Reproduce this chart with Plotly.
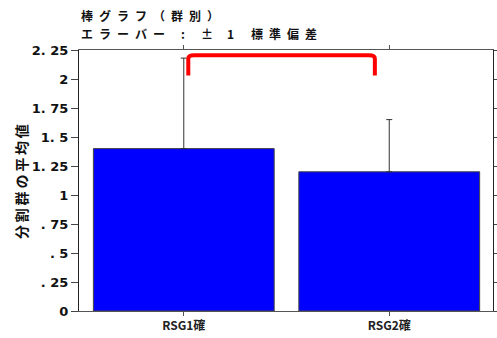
import plotly.graph_objects as go

categories = ["RSG1確", "RSG2確"]
means = [1.40, 1.20]
sds = [0.78, 0.45]
ytick_vals = [0, 0.25, 0.5, 0.75, 1, 1.25, 1.5, 1.75, 2, 2.25]
ytick_text = ["0", ". 25", ". 5", ". 75", "1", "1. 25", "1. 5", "1. 75", "2", "2. 25"]
bracket_x = [0.022, 0.93]
bracket_y = [2.03, 2.205]
title_line1 = "棒グラフ（群別）"
title_line2 = ["エラーバー", ":", "±", "1", "標準偏差"]
y_title = "分割群の平均値"

FONT = "Noto Sans CJK JP"
W, H = 497, 338
ML, MR, MT, MB = 79, 4, 50, 27
PW = W - ML - MR
PH = H - MT - MB
TS = "\u2009"
ES = "\u2002"


def px_x(px):
    return (px - ML) / PW


def px_y(py):
    return (H - MB - py) / PH


fig = go.Figure()
fig.add_trace(go.Bar(
    x=[0, 1], y=means, width=0.88,
    marker=dict(color="#0000FF", line=dict(color="#444444", width=1)),
    error_y=dict(type="data", symmetric=False, array=sds, arrayminus=[0, 0],
                 color="#333333", thickness=1, width=3),
))

x0, x1 = bracket_x
yb, yt = bracket_y
r = 0.03
ry = 0.03
path = (f"M {x0},{yb} L {x0},{yt-ry} Q {x0},{yt} {x0+r},{yt} "
        f"L {x1-r},{yt} Q {x1},{yt} {x1},{yt-ry} L {x1},{yb}")
fig.add_shape(type="path", path=path, xref="x", yref="y",
              line=dict(color="#FF0000", width=4))

annotations = [
    dict(text="<b>" + ES.join(title_line1) + "</b>", xref="paper", yref="paper",
         x=px_x(80), y=px_y(15.5), xanchor="left", yanchor="middle", borderpad=0,
         showarrow=False, font=dict(family=FONT, size=12, color="#111111")),
]
seg_px = [(80, "left"), (183, "center"), (207, "center"), (230, "center"), (250, "left")]
for seg, (sx, anc) in zip(title_line2, seg_px):
    annotations.append(dict(
        text="<b>" + ES.join(seg) + "</b>", xref="paper", yref="paper",
        x=px_x(sx), y=px_y(34), xanchor=anc, yanchor="middle", borderpad=0,
        showarrow=False, font=dict(family=FONT, size=12, color="#111111")))
annotations.append(dict(
    text="<b>" + TS.join(y_title) + "</b>", xref="paper", yref="paper",
    x=px_x(21), y=px_y(181), xanchor="center", yanchor="middle", textangle=-90,
    showarrow=False, font=dict(family=FONT, size=14, color="#111111")))

fig.update_layout(
    width=W, height=H,
    margin=dict(l=ML, r=MR, t=MT, b=MB, autoexpand=False),
    plot_bgcolor="white", paper_bgcolor="white",
    showlegend=False,
    font=dict(family=FONT, color="black"),
    xaxis=dict(range=[-0.51, 1.505], tickvals=[0, 1],
               ticktext=["<b>" + c + "</b>" for c in categories],
               showline=True, linecolor="#555555", linewidth=1, mirror="ticks",
               ticks="outside", ticklen=4, tickcolor="#555555",
               showgrid=False, zeroline=False, automargin=False,
               tickfont=dict(family=FONT, size=12, color="#222222")),
    yaxis=dict(range=[0, 2.25], tickvals=ytick_vals,
               ticktext=["<b>" + t + "</b>" for t in ytick_text],
               showline=True, linecolor="#222222", linewidth=1, mirror="ticks",
               ticks="outside", ticklen=7, tickcolor="#444444",
               showgrid=False, zeroline=False, automargin=False,
               tickfont=dict(family="DejaVu Sans", size=13, color="#111111")),
    annotations=annotations,
)
fig.write_html("out.html")
